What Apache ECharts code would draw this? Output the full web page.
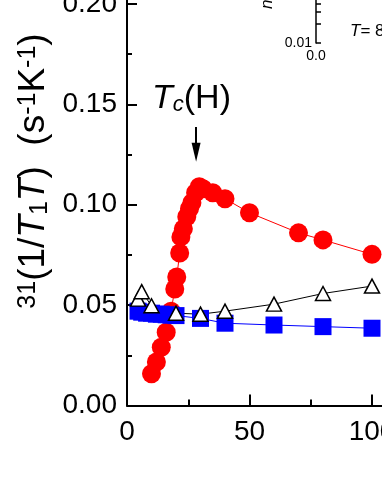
<!DOCTYPE html>
<html>
<head>
<meta charset="utf-8">
<script src="https://cdn.jsdelivr.net/npm/echarts@6/dist/echarts.min.js"></script>
<style>
  html, body { margin: 0; padding: 0; background: #fff; }
  #chart { width: 382px; height: 494px; }
</style>
</head>
<body>
<div id="chart"></div>
<script>
// 红色圆点 (H 场下)
const tempRed = [10, 12, 14, 16, 18, 19.5, 20.3, 21.5, 22, 23, 24.4, 25.5, 26.5, 28, 29.5, 31, 35, 40, 50, 70, 80, 100];
const valRed = [0.0158, 0.0217, 0.029, 0.0365, 0.047, 0.058, 0.064, 0.076, 0.084, 0.088, 0.094, 0.098, 0.101, 0.106, 0.109, 0.108, 0.106, 0.103, 0.096, 0.086, 0.0825, 0.0753];
// 空心三角
const tempTri = [4.5, 6, 10, 20, 30, 40, 60, 80, 100];
const valTri = [0.053, 0.0567, 0.0497, 0.046, 0.0455, 0.047, 0.0505, 0.0558, 0.0595];
// 蓝色方块
const tempBlue = [4.5, 6, 8, 10, 12, 14, 16, 18, 20, 30, 40, 60, 80, 100];
const valBlue = [0.047, 0.0465, 0.046, 0.046, 0.0455, 0.0455, 0.0452, 0.045, 0.0448, 0.0434, 0.041, 0.0401, 0.0393, 0.0385];
// Tc(H) 箭头
const arrowX = 28.2;
const arrowY = [0.1387, 0.1262];
// 插图的对数刻度
const insetMinorTicks = [0.01, 0.02, 0.03, 0.04, 0.05, 0.06, 0.07, 0.08, 0.09, 0.1];
const insetLabels = [0.01];

const FONT = 'Liberation Sans';
const zip = (xs, ys) => xs.map((x, i) => [x, ys[i]]);

const chart = echarts.init(document.getElementById('chart'));

const axisCommon = {
  axisLine: {show: true, lineStyle: {color: '#000', width: 2}},
  splitLine: {show: false},
  minorSplitLine: {show: false}
};

chart.setOption({
  animation: false,
  backgroundColor: '#fff',
  grid: [
    {left: 127, top: -96.375, width: 367.5, height: 501.9, outerBoundsMode: 'none', containLabel: false},
    {left: 316, top: -87, width: 590, height: 130, outerBoundsMode: 'none', containLabel: false}
  ],
  xAxis: [
    {
      ...axisCommon,
      type: 'value', gridIndex: 0, min: 0, max: 150, interval: 50,
      axisTick: {inside: true, length: 11, lineStyle: {width: 2, color: '#000'}},
      minorTick: {show: true, splitNumber: 2, length: 6, lineStyle: {width: 2, color: '#000'}},
      axisLabel: {color: '#000', fontSize: 28, fontFamily: FONT, margin: 13}
    },
    {
      ...axisCommon,
      type: 'value', gridIndex: 1, min: 0, max: 1, interval: 0.2,
      axisLine: {show: true, lineStyle: {color: '#000', width: 1.5}},
      axisTick: {inside: true, length: 5, lineStyle: {width: 1.5, color: '#000'}},
      minorTick: {show: true, splitNumber: 2, length: 4, lineStyle: {width: 1.5, color: '#000'}},
      axisLabel: {color: '#000', fontSize: 14, fontFamily: FONT, margin: 6,
        formatter: v => v.toFixed(1)}
    }
  ],
  yAxis: [
    {
      ...axisCommon,
      type: 'value', gridIndex: 0, min: 0, max: 0.25, interval: 0.05,
      axisTick: {inside: true, length: 10, lineStyle: {width: 2, color: '#000'}},
      minorTick: {show: true, splitNumber: 2, length: 5, lineStyle: {width: 2, color: '#000'}},
      axisLabel: {color: '#000', fontSize: 28, fontFamily: FONT, margin: 10,
        formatter: v => v.toFixed(2)}
    },
    {
      ...axisCommon,
      type: 'value', gridIndex: 1, min: -2, max: 0,
      axisLine: {show: true, lineStyle: {color: '#000', width: 1.5}},
      axisTick: {inside: true, length: 5, lineStyle: {width: 1.5, color: '#000'},
        customValues: insetMinorTicks.map(v => Math.log10(v))},
      axisLabel: {color: '#000', fontSize: 14, fontFamily: FONT, margin: 4,
        customValues: insetLabels.map(v => Math.log10(v)),
        formatter: v => Math.pow(10, v).toFixed(2)}
    }
  ],
  series: [
    {
      type: 'line', xAxisIndex: 0, yAxisIndex: 0,
      data: zip(tempRed, valRed),
      symbol: 'circle', symbolSize: 19,
      itemStyle: {color: '#ff0000'},
      lineStyle: {color: '#ff0000', width: 1},
      markLine: {
        silent: true,
        symbol: ['none', 'triangle'],
        symbolSize: [0, 10],
        label: {show: false},
        lineStyle: {color: '#000', width: 2, type: 'solid'},
        data: [[
          {coord: [arrowX, arrowY[0]]},
          {coord: [arrowX, arrowY[1]], symbolSize: [9, 19]}
        ]]
      }
    },
    {
      type: 'line', xAxisIndex: 0, yAxisIndex: 0,
      data: zip(tempBlue, valBlue),
      symbol: 'rect', symbolSize: 17,
      itemStyle: {color: '#0000ff'},
      lineStyle: {color: '#0000ff', width: 1}
    },
    {
      type: 'line', xAxisIndex: 0, yAxisIndex: 0,
      data: zip(tempTri, valTri),
      symbol: 'triangle', symbolSize: [15, 14],
      itemStyle: {color: '#fff', borderColor: '#000', borderWidth: 1.5},
      lineStyle: {color: '#000', width: 1}
    }
  ],
  graphic: [
    {
      type: 'text', x: 34, y: 171, rotation: Math.PI / 2,
      style: {
        text: '{sup|31}{m|(1/}{i|T}{sub|1}{i|T}{m|)  (s}{sup|-1}{m|K}{sup|-1}{m|)}',
        align: 'center', verticalAlign: 'middle', fill: '#000',
        rich: {
          m: {fontSize: 37, fontFamily: FONT, fill: '#000'},
          i: {fontSize: 37, fontFamily: FONT, fontStyle: 'italic', fill: '#000'},
          sup: {fontSize: 25, fontFamily: FONT, verticalAlign: 'top', fill: '#000'},
          sub: {fontSize: 25, fontFamily: FONT, verticalAlign: 'bottom', fill: '#000'}
        }
      }
    },
    {
      type: 'text', x: 152, y: 99,
      style: {
        text: '{i|T}{sub|c}{m|(H)}',
        align: 'left', verticalAlign: 'middle', fill: '#000',
        rich: {
          m: {fontSize: 34, fontFamily: FONT, fill: '#000'},
          i: {fontSize: 34, fontFamily: FONT, fontStyle: 'italic', fill: '#000'},
          sub: {fontSize: 22, fontFamily: FONT, fontStyle: 'italic', verticalAlign: 'bottom', fill: '#000'}
        }
      }
    },
    {
      type: 'text', x: 350, y: 31,
      style: {
        text: '{i|T}{m|= 8 K}',
        align: 'left', verticalAlign: 'middle', fill: '#000',
        rich: {
          m: {fontSize: 17, fontFamily: FONT, fill: '#000'},
          i: {fontSize: 17, fontFamily: FONT, fontStyle: 'italic', fill: '#000'}
        }
      }
    },
    {
      type: 'text', x: 267, y: 9, rotation: Math.PI / 2,
      style: {
        text: 'n', align: 'left', verticalAlign: 'middle', fill: '#000',
        font: 'italic 17px "Liberation Sans"'
      }
    }
  ]
});
</script>
</body>
</html>
